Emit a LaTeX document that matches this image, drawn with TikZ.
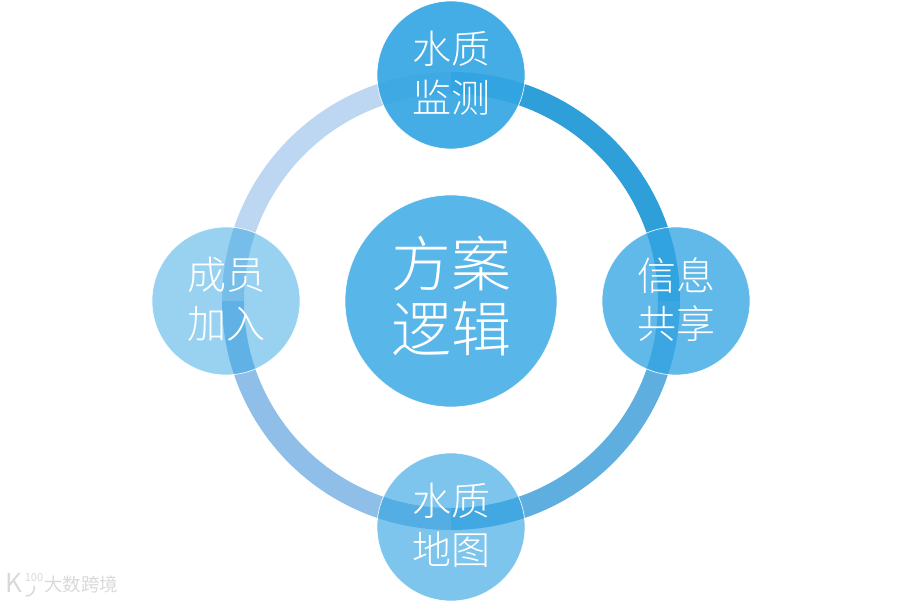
\documentclass[tikz,border=0pt]{standalone}
\usepackage{fontspec}
\usepackage{xcolor}
\setmainfont{Noto Sans CJK SC Light}
\newfontfamily\brandfont{Noto Sans CJK SC}
\usetikzlibrary{positioning, backgrounds}
\definecolor{baseblue}{HTML}{33A5E3}
\begin{document}
\begin{tikzpicture} [x=1pt, y=1pt, node distance =226pt and 225pt, on grid,
	disc/.style ={circle, fill=baseblue, draw=white, line width=0.7pt, text=white, text opacity=1, draw opacity=0.9, inner sep=0pt, align=center},
	hub/.style ={disc, minimum size=212pt, fill opacity=0.81, text depth=14pt, font=\fontsize{60}{65}\selectfont},
	spoke/.style ={disc, minimum size=148pt, text depth=6pt, font=\fontsize{39}{48.5}\selectfont},
	ring/.style ={line width=22pt, bend left=45},
	brand/.style ={text=black!15, font=\brandfont}]
	\useasboundingbox (0,0) rectangle (900,-601);
	\node[hub] (Hub) at (451,-301) {方案\\逻辑};
	\node[spoke, fill opacity=0.91] (Monitor) [above=of Hub] {水质\\监测};
	\node[spoke, fill opacity=0.78] (Share) [right=of Hub] {信息\\共享};
	\node[spoke, fill opacity=0.64] (Map) [below=of Hub] {水质\\地图};
	\node[spoke, fill opacity=0.50] (Join) [left=of Hub] {成员\\加入};
	\coordinate[above=218pt of Hub] (RingN);
	\coordinate[right=218pt of Hub] (RingE);
	\coordinate[below=218pt of Hub] (RingS);
	\coordinate[left=218pt of Hub] (RingW);
	\begin{pgfonlayer}{background}
		\path (RingN) edge [ring, draw={rgb,255:red,46;green,159;blue,217}] (RingE);
		\path (RingE) edge [ring, draw={rgb,255:red,95;green,174;blue,224}] (RingS);
		\path (RingS) edge [ring, draw={rgb,255:red,143;green,190;blue,232}] (RingW);
		\path (RingW) edge [ring, draw={rgb,255:red,189;green,215;blue,242}] (RingN);
	\end{pgfonlayer}
	\node[brand] (Brand) at (81,-584) {\fontsize{18.5}{18.5}\selectfont 大数跨境};
	\node[brand] (LogoK) at (14,-583) {\fontsize{26}{26}\selectfont K};
	\node[brand] (LogoC) [right=20pt of LogoK, yshift=5pt] {\fontsize{11}{11}\selectfont 100};
	\path (LogoK.south east) edge [bend right=60, black!15, line width=1.5pt] (LogoC.south);
\end{tikzpicture}
\end{document}
